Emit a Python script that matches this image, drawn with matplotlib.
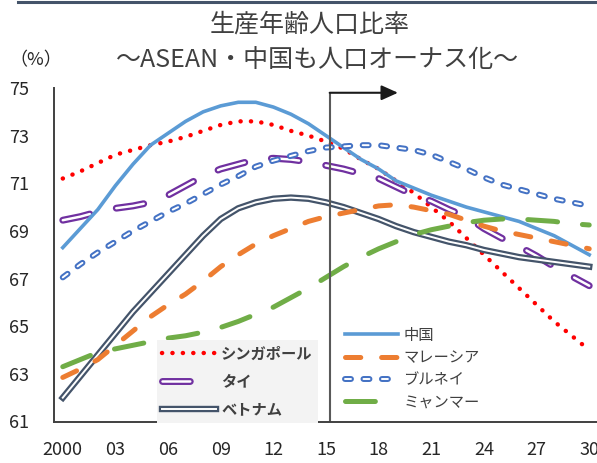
import matplotlib
matplotlib.use("Agg")
import matplotlib.pyplot as plt
import matplotlib.patheffects as pe
from matplotlib.lines import Line2D

plt.rcParams["font.family"] = ["Noto Sans CJK JP", "DejaVu Sans"]
plt.rcParams["lines.scale_dashes"] = False

# ── DATA ──────────────────────────────────────────────────────────────────────
years = list(range(2000, 2031))
tick_years = list(range(2000, 2031, 3))
tick_labels = ["2000", "03", "06", "09", "12", "15", "18", "21", "24", "27", "30"]

singapore = [71.2, 71.5, 71.85, 72.2, 72.4, 72.6, 72.75, 72.95, 73.2, 73.45, 73.6,
             73.6, 73.45, 73.2, 73.0, 72.75, 72.45, 72.0, 71.6, 71.1, 70.6,
             70.0, 69.4, 68.7, 68.0, 67.3, 66.6, 65.9, 65.2, 64.6, 64.0]
thailand = [69.45, 69.6, 69.8, 69.95, 70.05, 70.2, 70.5, 70.9, 71.3, 71.6, 71.8,
            72.0, 72.05, 72.0, 71.9, 71.75, 71.6, 71.4, 71.2, 70.85, 70.5,
            70.25, 69.9, 69.6, 69.1, 68.7, 68.35, 67.95, 67.5, 67.1, 66.7]
vietnam = [62.0, 62.9, 63.8, 64.7, 65.6, 66.4, 67.2, 68.0, 68.8, 69.5, 69.95,
           70.2, 70.35, 70.4, 70.35, 70.2, 70.0, 69.75, 69.5, 69.2, 68.95,
           68.75, 68.55, 68.4, 68.2, 68.05, 67.9, 67.8, 67.7, 67.6, 67.5]
china = [68.3, 69.1, 69.9, 70.9, 71.8, 72.6, 73.1, 73.6, 74.0, 74.25, 74.4,
         74.4, 74.2, 73.9, 73.5, 73.0, 72.5, 72.0, 71.6, 71.1, 70.8,
         70.5, 70.25, 70.0, 69.8, 69.6, 69.4, 69.1, 68.8, 68.4, 68.0]
malaysia = [62.85, 63.2, 63.6, 64.2, 64.8, 65.4, 65.9, 66.35, 66.9, 67.5, 68.0,
            68.45, 68.8, 69.1, 69.4, 69.6, 69.75, 69.9, 70.05, 70.1, 70.0,
            69.85, 69.7, 69.45, 69.2, 69.0, 68.85, 68.7, 68.55, 68.4, 68.25]
brunei = [67.05, 67.6, 68.1, 68.55, 69.0, 69.4, 69.8, 70.15, 70.55, 70.95, 71.3,
          71.7, 71.95, 72.15, 72.35, 72.5, 72.55, 72.6, 72.6, 72.5, 72.4,
          72.2, 71.9, 71.6, 71.25, 70.95, 70.75, 70.55, 70.35, 70.2, 70.05]
myanmar = [63.3, 63.6, 63.9, 64.05, 64.2, 64.35, 64.5, 64.6, 64.75, 64.95, 65.2,
           65.5, 65.8, 66.2, 66.6, 67.05, 67.5, 67.9, 68.25, 68.55, 68.85,
           69.05, 69.2, 69.35, 69.45, 69.5, 69.5, 69.45, 69.4, 69.3, 69.25]

PROJ_START = 2015.25   # start of projection period
PROJ_ARROW_END = 2019.1

TXT = "#404040"

# ── FIGURE ────────────────────────────────────────────────────────────────────
fig = plt.figure(figsize=(5.97, 4.63), dpi=100)
ax = fig.add_axes([54 / 597, 41.5 / 463, 544 / 597, 333.5 / 463])

def outlined(color, width, inner=1.5):
    return dict(color="white", linewidth=inner,
                path_effects=[pe.Stroke(linewidth=width, foreground=color), pe.Normal()])

l_sg, = ax.plot(years, singapore, color="#FF0000", linewidth=3.2,
                linestyle=(0, (0.1, 7.4)), dash_capstyle="round", label="シンガポール")
l_th, = ax.plot(years, thailand, linestyle=(0, (20, 19.5)), dash_capstyle="round",
                label="タイ", **outlined("#7030A0", 5.0, 1.8))
l_vn, = ax.plot(years, vietnam, label="ベトナム", **outlined("#44546A", 4.6, 1.4))
l_cn, = ax.plot(years, china, color="#5B9BD5", linewidth=2.6, label="中国")
l_my, = ax.plot(years, malaysia, color="#ED7D31", linewidth=3.6,
                linestyle=(0, (11, 15)), dash_capstyle="round", label="マレーシア")
l_bn, = ax.plot(years, brunei, linestyle=(0, (4.3, 9)), dash_capstyle="round",
                label="ブルネイ", **outlined("#4472C4", 4.3, 1.4))
l_mm, = ax.plot(years, myanmar, color="#70AD47", linewidth=3.6,
                linestyle=(0, (21.5, 18)), dash_capstyle="round", label="ミャンマー")

# projection marker
ax.plot([PROJ_START, PROJ_START], [61, 74.8], color="#595959", linewidth=1.5,
        solid_capstyle="butt")
ax.annotate("", xy=(PROJ_ARROW_END, 74.8), xytext=(PROJ_START - 0.04, 74.8),
            arrowprops=dict(arrowstyle="-|>,head_length=1.0,head_width=0.45",
                            color="#1a1a1a", linewidth=1.5, shrinkA=0, shrinkB=0))

ax.set_xlim(1999.5, 2030.5)
ax.set_ylim(61, 75)
ax.set_xticks(tick_years)
ax.set_xticklabels(tick_labels)
ax.set_yticks(range(61, 76, 2))
ax.tick_params(length=0, labelsize=13, labelcolor="#262626")
ax.tick_params(axis="y", pad=18)
ax.tick_params(axis="x", pad=14)
ax.spines[["top", "right"]].set_visible(False)
for s in ("left", "bottom"):
    ax.spines[s].set_color("#404040")
    ax.spines[s].set_linewidth(1.4)

leg1 = ax.legend(handles=[l_sg, l_th, l_vn], loc="upper left",
                 bbox_to_anchor=(157 / 597, 1 - 340 / 463), bbox_transform=fig.transFigure,
                 prop=dict(size=11, weight="bold"), labelcolor=TXT,
                 handlelength=3.5, handletextpad=0.35, labelspacing=0.78,
                 borderpad=0.35, borderaxespad=0, frameon=True, fancybox=False,
                 facecolor="#F3F3F3", edgecolor="none", framealpha=1)
ax.add_artist(leg1)
ax.legend(handles=[l_cn, l_my, l_bn, l_mm], loc="upper left",
          bbox_to_anchor=(340 / 597, 1 - 322 / 463), bbox_transform=fig.transFigure,
          prop=dict(size=11), labelcolor=TXT,
          handlelength=3.5, handletextpad=0.35, labelspacing=0.35,
          borderpad=0.3, borderaxespad=0, frameon=True, fancybox=False,
          facecolor="white", edgecolor="none", framealpha=1)

# titles and unit
fig.text(310 / 597, 1 - 25 / 463, "生産年齢人口比率", ha="center", va="center",
         fontsize=18, color=TXT)
fig.text(318 / 597, 1 - 60 / 463, "～ASEAN・中国も人口オーナス化～", ha="center",
         va="center", fontsize=18, color=TXT)
fig.text(36 / 597, 1 - 60 / 463, "（%）", ha="center", va="center", fontsize=13,
         color="#262626")

# rule along the top edge
fig.add_artist(Line2D([18 / 597, 1], [1 - 1.5 / 463] * 2, transform=fig.transFigure,
                      color="#44546A", linewidth=2.2))

fig.savefig("out.png", dpi=100)
